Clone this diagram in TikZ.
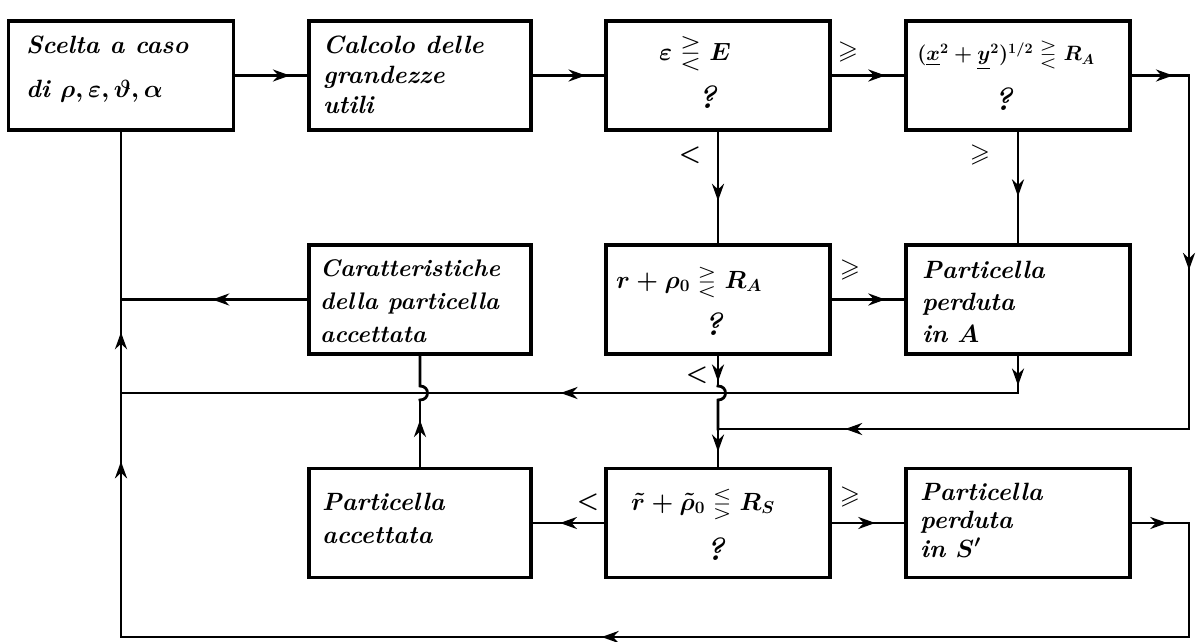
\documentclass[tikz,border=0pt]{standalone}
\usepackage{amsmath,amssymb}
\usetikzlibrary{arrows.meta,decorations.markings}
\begin{document}
\begin{tikzpicture}[x=1pt,y=-1pt,
  box/.style={draw, line width=3.6pt, inner sep=0pt},
  col1/.style={minimum width=225pt},
  col2/.style={minimum width=222pt},
  col3/.style={minimum width=224pt},
  col4/.style={minimum width=224pt},
  rowh/.style={minimum height=109pt},
  conn/.style={line width=2.8pt, line cap=rect},
  marr/.style={postaction={decorate,decoration={markings,mark=at position #1 with {\arrow{Stealth[length=17pt,width=12pt]}}}}},
  txt/.style={font=\fontsize{24}{33}\selectfont\bfseries\itshape, align=left, anchor=base west, inner sep=0pt},
  frm/.style={font=\boldmath\fontsize{24}{30}\selectfont, anchor=base, inner sep=0pt},
  qm/.style={font=\fontsize{32}{34}\selectfont\bfseries\itshape, anchor=base, inner sep=0pt},
  lab/.style={font=\boldmath\fontsize{26}{28}\selectfont, inner sep=0pt}]
\useasboundingbox[fill=white] (0,0) rectangle (1199,642);

% boxes
\node[box,col1,rowh] (b1) at (121,75.5) {};
\node[box,col2,rowh] (b2) at (420,75.5) {};
\node[box,col3,rowh] (b3) at (718,75.5) {};
\node[box,col4,rowh] (b4) at (1018,75.5) {};
\node[box,col2,rowh] (b7) at (420,299.5) {};
\node[box,col3,rowh] (b5) at (718,299.5) {};
\node[box,col4,rowh] (b6) at (1018,299.5) {};
\node[box,col2,rowh] (b10) at (420,523) {};
\node[box,col3,rowh] (b8) at (718,523) {};
\node[box,col4,rowh] (b9) at (1018,523) {};

% texts (anchored at the baseline of their last line)
\node[txt,font=\boldmath\fontsize{25}{44}\selectfont\bfseries\itshape] (t1) at (26,97) {Scelta a caso\\di $\rho,\varepsilon,\vartheta,\alpha$};
\node[txt,font=\fontsize{25}{30}\selectfont\bfseries\itshape] (t2) at (323,113) {Calcolo delle\\grandezze\\utili};
\node[frm,font=\boldmath\fontsize{27}{30}\selectfont] (f3) at (695,61) {$\varepsilon \gtreqless E$};
\node[qm] (q3) at (707,108) {?};
\node[frm,font=\boldmath\fontsize{22}{28}\selectfont] (f4) at (1006,61) {$(\underline{x}^2+\underline{y}^2)^{1/2} \gtreqless R_A$};
\node[qm] (q4) at (1003,110) {?};
\node[txt] (t7) at (320,342) {Caratteristiche\\della particella\\accettata};
\node[frm] (f5) at (689,288) {$r+\rho_0 \gtreqless R_A$};
\node[qm] (q5) at (713,335) {?};
\node[txt,font=\boldmath\fontsize{25}{32}\selectfont\bfseries\itshape] (t6) at (922,342) {Particella\\perduta\\in $A$};
\node[txt,font=\fontsize{25}{33}\selectfont\bfseries\itshape] (t10) at (322,543) {Particella\\accettata};
\node[frm] (f8) at (703,510) {$\tilde r+\tilde\rho_0 \lesseqgtr R_S$};
\node[qm] (q8) at (715,560) {?};
\node[txt,font=\boldmath\fontsize{25}{28.5}\selectfont\bfseries\itshape] (t9) at (920,557) {Particella\\perduta\\in $S'$};

% branch labels
\node[lab] (l1) at (848,52) {$\geqslant$};
\node[lab] (l2) at (690,155) {$<$};
\node[lab] (l3) at (980,155) {$\geqslant$};
\node[lab] (l4) at (850,270) {$\geqslant$};
\node[lab] (l5) at (697,375) {$<$};
\node[lab] (l6) at (588,502) {$<$};
\node[lab] (l7) at (850,497) {$\geqslant$};

% helper coordinates
\coordinate (xr) at (1189,0);
\coordinate (xl) at (121,0);
\coordinate (ya) at (0,393);
\coordinate (yb) at (0,429);
\coordinate (yc) at (0,637);
\coordinate (yh1) at (0,400);
\coordinate (yh2) at (0,386);
\coordinate (c4a) at (b4.east -| xr);
\coordinate (c4b) at (xr |- yb);
\coordinate (j1) at (b5.south |- yb);
\coordinate (c8a) at (b6.south |- ya);
\coordinate (c14a) at (b9.east -| xr);
\coordinate (c14b) at (xr |- yc);
\coordinate (c14c) at (xl |- yc);
\coordinate (c14d) at (xl |- ya);
\coordinate (c14e) at (xl |- b7.west);
\coordinate (h1a) at (b10.north |- yh1);
\coordinate (h1b) at (b10.north |- yh2);
\coordinate (h2a) at (b5.south |- yh2);
\coordinate (h2b) at (b5.south |- yh1);

% connectors
\draw[conn,marr=0.76] (b1.east) -- (b2.west);
\draw[conn,marr=0.74] (b2.east) -- (b3.west);
\draw[conn,marr=0.74] (b3.east) -- (b4.west);
\draw[conn,marr=0.72] (b4.east) -- (c4a);
\draw[conn,marr=0.55] (c4a) -- (c4b);
\draw[conn,marr=0.73] (c4b) -- (j1);
\draw[conn,marr=0.62] (b3.south) -- (b5.north);
\draw[conn,marr=0.58] (b4.south) -- (b6.north);
\draw[conn,marr=0.74] (b5.east) -- (b6.west);
\draw[conn,marr=0.8] (b6.south) -- (c8a);
\draw[conn,marr=0.51] (c8a) -- (c14d);
\draw[conn,marr=0.51] (b7.west) -- (c14e);
\draw[conn,marr=0.7] (b10.north) -- (h1a);
\draw[conn] (h1a) .. controls ([xshift=10pt]h1a) and ([xshift=10pt]h1b) .. (h1b) -- (b7.south);
\draw[conn,marr=0.85] (b5.south) -- (h2a);
\draw[conn] (h2a) .. controls ([xshift=10pt]h2a) and ([xshift=10pt]h2b) .. (h2b) -- (j1);
\draw[conn,marr=0.6] (j1) -- (b8.north);
\draw[conn,marr=0.62] (b8.west) -- (b10.east);
\draw[conn,marr=0.6] (b8.east) -- (b9.west);
\draw[conn,marr=0.62] (b9.east) -- (c14a);
\draw[conn] (c14a) -- (c14b);
\draw[conn,marr=0.55] (c14b) -- (c14c);
\draw[conn,marr=0.72] (c14c) -- (c14d);
\draw[conn,marr=0.65] (c14d) -- (c14e);
\draw[conn] (c14e) -- (b1.south);
\end{tikzpicture}
\end{document}
